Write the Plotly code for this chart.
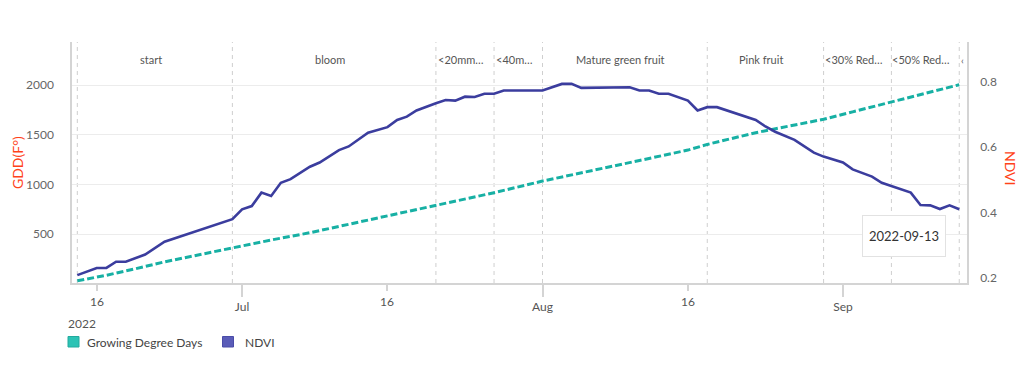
import plotly.graph_objects as go
import pandas as pd

# ---------------- data ----------------
gdd_dates = ["2022-06-14", "2022-06-17", "2022-06-20", "2022-06-23", "2022-06-27", "2022-06-30",
             "2022-07-04", "2022-07-08", "2022-07-12", "2022-07-16", "2022-07-21", "2022-07-27",
             "2022-08-01", "2022-08-06", "2022-08-11", "2022-08-16", "2022-08-18", "2022-08-23",
             "2022-08-27", "2022-08-30", "2022-09-02", "2022-09-05", "2022-09-09", "2022-09-13"]
gdd_values = [29, 85, 150, 220, 300, 362,
              440, 513, 597, 683, 792, 916,
              1033, 1140, 1240, 1345, 1402, 1520,
              1600, 1655, 1730, 1805, 1900, 2003]

ndvi_dates = ["2022-06-14", "2022-06-16", "2022-06-17", "2022-06-18", "2022-06-19", "2022-06-20",
              "2022-06-21", "2022-06-23", "2022-06-30", "2022-07-01", "2022-07-02", "2022-07-03",
              "2022-07-04", "2022-07-05", "2022-07-06", "2022-07-08", "2022-07-09", "2022-07-11",
              "2022-07-12", "2022-07-14", "2022-07-16", "2022-07-17", "2022-07-18", "2022-07-19",
              "2022-07-20", "2022-07-21", "2022-07-22", "2022-07-23", "2022-07-24", "2022-07-25",
              "2022-07-26", "2022-07-27", "2022-07-28", "2022-08-01", "2022-08-03", "2022-08-04",
              "2022-08-05", "2022-08-10", "2022-08-11", "2022-08-12", "2022-08-13", "2022-08-14",
              "2022-08-16", "2022-08-17", "2022-08-18", "2022-08-19", "2022-08-23", "2022-08-24",
              "2022-08-25", "2022-08-27", "2022-08-29", "2022-08-30", "2022-09-01", "2022-09-02",
              "2022-09-04", "2022-09-05", "2022-09-08", "2022-09-09", "2022-09-10", "2022-09-11",
              "2022-09-12", "2022-09-13"]
ndvi_values = [0.209, 0.231, 0.231, 0.250, 0.250, 0.262,
               0.272, 0.311, 0.380, 0.410, 0.420, 0.461,
               0.451, 0.491, 0.502, 0.540, 0.553, 0.591,
               0.602, 0.644, 0.661, 0.683, 0.693, 0.712,
               0.724, 0.734, 0.744, 0.742, 0.754, 0.753,
               0.763, 0.763, 0.773, 0.773, 0.793, 0.793,
               0.781, 0.783, 0.773, 0.773, 0.763, 0.763,
               0.742, 0.712, 0.722, 0.722, 0.683, 0.663,
               0.647, 0.622, 0.583, 0.571, 0.553, 0.532,
               0.510, 0.491, 0.461, 0.423, 0.422, 0.411,
               0.422, 0.410]

stage_names = ["start", "bloom", "<20mm…", "<40m…", "Mature green fruit",
               "Pink fruit", "<30% Red…", "<50% Red…"]
stage_starts = ["2022-06-14", "2022-06-30", "2022-07-21", "2022-07-27", "2022-08-01",
                "2022-08-18", "2022-08-30", "2022-09-06"]
stage_ends = ["2022-06-30", "2022-07-21", "2022-07-27", "2022-08-01", "2022-08-18",
              "2022-08-30", "2022-09-06", "2022-09-13"]
last_stage_start = "2022-09-13"

major_tick_dates = ["2022-07-01", "2022-08-01", "2022-09-01"]
major_tick_labels = ["Jul", "Aug", "Sep"]
minor_tick_dates = ["2022-06-16", "2022-07-16", "2022-08-16"]
minor_tick_labels = ["16", "16", "16"]
year_label = "2022"

left_ticks = [500, 1000, 1500, 2000]
right_ticks = [0.2, 0.4, 0.6, 0.8]

tooltip_text = "2022-09-13"
series_names = ["Growing Degree Days", "NDVI"]

# ---------------- style ----------------
FONT = "Lato"
TEAL = "#17b0a4"
TEAL_SW = "#2cc3b5"
INDIGO = "#3b3d9e"
INDIGO_SW = "#5a5cb8"
TITLE_RED = "#ff4219"
AXIS_GREY = "#d4d4d4"
TEXT_GREY = "#555555"

OFF = 8  # page body margin
W, H = 1024 - OFF, 368 - OFF
ML, MT = 72 - OFF, 42 - OFF
MR = W - (967 - OFF)
MB = H - (283 - OFF)
PW, PH = W - ML - MR, H - MT - MB


def px2x(px):
    return (px - OFF - ML) / PW


def py2y(py):
    return (H - MB - (py - OFF)) / PH


def mid_date(a, b):
    ta, tb = pd.Timestamp(a), pd.Timestamp(b)
    return (ta + (tb - ta) / 2).strftime("%Y-%m-%d %H:%M")


fig = go.Figure()
fig.add_trace(go.Scatter(x=gdd_dates, y=gdd_values, mode="lines", name=series_names[0],
                         line=dict(color=TEAL, width=3, dash="7px,3px"),
                         yaxis="y", showlegend=False, hoverinfo="skip"))
fig.add_trace(go.Scatter(x=ndvi_dates, y=ndvi_values, mode="lines", name=series_names[1],
                         line=dict(color=INDIGO, width=2.6),
                         yaxis="y2", showlegend=False, hoverinfo="skip"))

shapes = []
annotations = []

# stage boundary lines + labels
boundaries = stage_starts + [last_stage_start]
for d in boundaries:
    shapes.append(dict(type="line", xref="x", yref="paper", x0=d, x1=d, y0=0, y1=1,
                       line=dict(color="#cfcfcf", width=1, dash="4px,4px"), layer="below"))
for name, s, e in zip(stage_names, stage_starts, stage_ends):
    annotations.append(dict(text=name, x=mid_date(s, e), xref="x", y=py2y(60), yref="paper",
                            xshift=-4, showarrow=False, xanchor="center", yanchor="middle",
                            font=dict(family=FONT, size=11, color=TEXT_GREY)))
annotations.append(dict(text="‹", x=last_stage_start, xref="x", y=py2y(60), yref="paper",
                        xshift=3, showarrow=False, xanchor="center", yanchor="middle",
                        font=dict(family=FONT, size=10, color=TEXT_GREY)))

# minor tick labels ("16") and year
for d, t in zip(minor_tick_dates, minor_tick_labels):
    annotations.append(dict(text=t, x=d, xref="x", y=py2y(301.5), yref="paper",
                            showarrow=False, xanchor="center", yanchor="middle",
                            font=dict(family=FONT, size=12, color=TEXT_GREY)))
annotations.append(dict(text=year_label, x=px2x(82), xref="paper", y=py2y(323), yref="paper",
                        showarrow=False, xanchor="center", yanchor="middle",
                        font=dict(family=FONT, size=12, color=TEXT_GREY)))

# axis titles
annotations.append(dict(text="GDD(F°)", x=px2x(17), xref="paper", y=py2y(163), yref="paper",
                        showarrow=False, textangle=-90, xanchor="center", yanchor="middle",
                        font=dict(family=FONT, size=14, color=TITLE_RED)))
annotations.append(dict(text="NDVI", x=px2x(1011), xref="paper", y=py2y(168), yref="paper",
                        showarrow=False, textangle=90, xanchor="center", yanchor="middle",
                        font=dict(family=FONT, size=14, color=TITLE_RED)))

# legend
shapes.append(dict(type="rect", xref="paper", yref="paper", x0=px2x(68), x1=px2x(79),
                   y0=py2y(347), y1=py2y(336.5), fillcolor=TEAL_SW, line=dict(color="#22aa9e", width=1)))
annotations.append(dict(text=series_names[0], x=px2x(85), xref="paper", y=py2y(342), yref="paper",
                        showarrow=False, xanchor="left", yanchor="middle",
                        font=dict(family=FONT, size=12, color="#444444")))
shapes.append(dict(type="rect", xref="paper", yref="paper", x0=px2x(222.5), x1=px2x(233.5),
                   y0=py2y(347), y1=py2y(336.5), fillcolor=INDIGO_SW, line=dict(color="#4a4ca8", width=1)))
annotations.append(dict(text=series_names[1], x=px2x(242.5), xref="paper", y=py2y(342), yref="paper",
                        showarrow=False, xanchor="left", yanchor="middle",
                        font=dict(family=FONT, size=12, color="#444444")))

# tooltip box
annotations.append(dict(text=tooltip_text, x=px2x(904), xref="paper", y=py2y(236), yref="paper",
                        showarrow=False, xanchor="center", yanchor="middle",
                        width=72, height=30, borderpad=5, bgcolor="white",
                        bordercolor="#e2e2e2", borderwidth=1,
                        font=dict(family=FONT, size=13, color="#333333")))

fig.update_layout(
    width=W, height=H,
    margin=dict(l=ML, r=MR, t=MT, b=MB, pad=0),
    paper_bgcolor="white", plot_bgcolor="white",
    font=dict(family=FONT, size=12, color=TEXT_GREY),
    showlegend=False,
    shapes=shapes, annotations=annotations,
    xaxis=dict(type="date", range=["2022-06-13 10:50", "2022-09-13 19:10"],
               showgrid=False, zeroline=False,
               showline=True, linecolor=AXIS_GREY, linewidth=1.5,
               tickmode="array", tickvals=major_tick_dates, ticktext=major_tick_labels,
               ticks="outside", ticklen=12, tickwidth=1.5, tickcolor=AXIS_GREY,
               tickfont=dict(family=FONT, size=12, color=TEXT_GREY),
               minor=dict(tickvals=minor_tick_dates, ticks="outside", ticklen=6,
                          tickwidth=1.5, tickcolor=AXIS_GREY, showgrid=False)),
    yaxis=dict(range=[7, 2433], tickmode="array", tickvals=left_ticks,
               showgrid=True, gridcolor="#ececec", gridwidth=1, zeroline=False,
               showline=True, linecolor=AXIS_GREY, linewidth=1.5,
               ticks="", ticklabelstandoff=14,
               tickfont=dict(family=FONT, size=12, color="#666666")),
    yaxis2=dict(range=[0.185, 0.921], overlaying="y", side="right",
                tickmode="array", tickvals=right_ticks, tickformat=".1f",
                showgrid=False, zeroline=False,
                showline=True, linecolor=AXIS_GREY, linewidth=1.5,
                ticks="", ticklabelstandoff=9,
                tickfont=dict(family=FONT, size=12, color="#666666")),
)

fig.write_html("out.html")
